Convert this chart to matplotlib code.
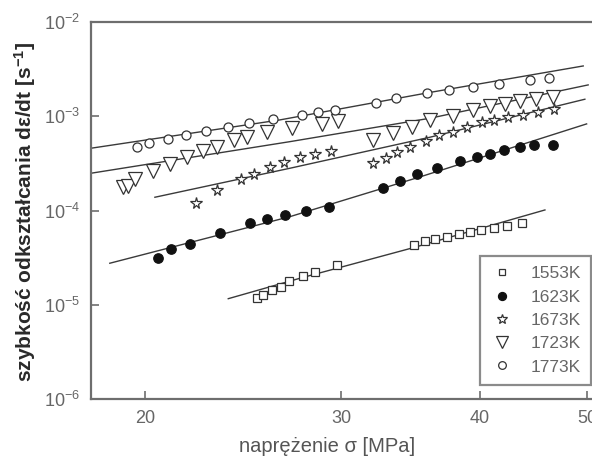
import matplotlib
matplotlib.use("Agg")
import matplotlib.pyplot as plt
from matplotlib.ticker import FixedLocator, FixedFormatter, NullLocator

plt.rcParams['font.family'] = ['Liberation Sans', 'DejaVu Sans']
plt.rcParams['mathtext.fontset'] = 'custom'
plt.rcParams['mathtext.rm'] = 'Liberation Sans'
plt.rcParams['mathtext.it'] = 'Liberation Sans:italic'
plt.rcParams['mathtext.bf'] = 'Liberation Sans:bold'

# ---- data ----
labels = ['1553K', '1623K', '1673K', '1723K', '1773K']

x_1553 = [25.20, 25.53, 26.00, 26.50, 26.94, 27.74, 28.43, 29.76, 34.93, 35.74, 36.48,
          37.37, 38.29, 39.17, 40.12, 41.16, 42.28, 43.62]
y_1553 = [1.186e-5, 1.261e-5, 1.435e-5, 1.563e-5, 1.783e-5, 2.045e-5, 2.238e-5, 2.676e-5,
          4.328e-5, 4.772e-5, 4.95e-5, 5.197e-5, 5.62e-5, 5.873e-5, 6.241e-5, 6.602e-5,
          6.932e-5, 7.46e-5]

x_1623 = [20.53, 21.10, 21.94, 23.33, 24.84, 25.73, 26.70, 27.93, 29.28, 32.70, 33.93,
          35.09, 36.62, 38.42, 39.73, 40.85, 42.07, 43.47, 44.76, 46.57]
y_1623 = [3.11e-5, 3.88e-5, 4.44e-5, 5.76e-5, 7.41e-5, 8.17e-5, 9.00e-5, 9.97e-5, 1.081e-4,
          1.74e-4, 2.065e-4, 2.45e-4, 2.85e-4, 3.32e-4, 3.74e-4, 3.96e-4, 4.43e-4, 4.70e-4,
          4.91e-4, 5.01e-4]

x_1673 = [22.21, 23.20, 24.38, 25.03, 25.92, 26.67, 27.55, 28.44, 29.36, 32.07, 32.91,
          33.69, 34.63, 35.77, 36.77, 37.84, 38.96, 40.15, 41.23, 42.43, 43.77, 45.14, 46.67]
y_1673 = [1.216e-4, 1.646e-4, 2.158e-4, 2.468e-4, 2.928e-4, 3.284e-4, 3.684e-4, 3.993e-4,
          4.327e-4, 3.166e-4, 3.648e-4, 4.172e-4, 4.772e-4, 5.526e-4, 6.30e-4, 6.883e-4,
          7.755e-4, 8.617e-4, 9.09e-4, 9.85e-4, 1.042e-3, 1.108e-3, 1.189e-3]

x_1723 = [19.10, 19.29, 19.57, 20.32, 21.05, 21.79, 22.52, 23.22, 24.03, 24.67, 25.73,
          27.10, 28.82, 29.83, 32.03, 33.43, 34.79, 36.04, 37.84, 39.46, 40.85, 42.14,
          43.47, 44.94, 46.57]
y_1723 = [1.77e-4, 1.83e-4, 2.14e-4, 2.62e-4, 3.11e-4, 3.74e-4, 4.32e-4, 4.77e-4, 5.55e-4,
          6.02e-4, 6.79e-4, 7.53e-4, 8.31e-4, 8.85e-4, 5.66e-4, 6.72e-4, 7.78e-4, 9.05e-4,
          1.017e-3, 1.169e-3, 1.28e-3, 1.353e-3, 1.457e-3, 1.529e-3, 1.617e-3]

x_1773 = [19.64, 20.17, 20.94, 21.78, 22.70, 23.72, 24.80, 26.08, 27.65, 28.60, 29.61,
          32.25, 33.63, 35.83, 37.54, 39.46, 41.60, 44.37, 46.18]
y_1773 = [4.77e-4, 5.16e-4, 5.73e-4, 6.35e-4, 7.05e-4, 7.72e-4, 8.51e-4, 9.38e-4, 1.035e-3,
          1.10e-3, 1.163e-3, 1.37e-3, 1.548e-3, 1.749e-3, 1.919e-3, 2.05e-3, 2.22e-3,
          2.40e-3, 2.54e-3]

# fitted curves
fx_1553 = [23.75, 27.55, 34.85, 45.78]
fy_1553 = [1.166e-5, 1.919e-5, 4.051e-5, 1.017e-4]
fx_1623 = [18.58, 26.99, 35.33, 49.91]
fy_1623 = [2.77e-5, 8.64e-5, 2.277e-4, 8.31e-4]
fx_1673 = [20.40, 26.99, 36.07, 49.73]
fy_1673 = [1.387e-4, 2.816e-4, 6.003e-4, 1.518e-3]
fx_1723 = [17.86, 26.99, 36.07, 50.07]
fy_1723 = [2.49e-4, 5.39e-4, 9.54e-4, 2.153e-3]
fx_1773 = [17.87, 26.43, 36.07, 49.56]
fy_1773 = [4.59e-4, 9.16e-4, 1.792e-3, 3.42e-3]

x_ticks = [20, 30, 40, 50]
x_ticklabels = ['20', '30', '40', '50']
y_ticks = [1e-6, 1e-5, 1e-4, 1e-3, 1e-2]
y_ticklabels = ['10$^{-6}$', '10$^{-5}$', '10$^{-4}$', '10$^{-3}$', '10$^{-2}$']

# ---- figure ----
fig = plt.figure(figsize=(5.92, 4.66), dpi=100)
ax = fig.add_axes([91 / 592, 66.7 / 466, 501 / 592, 377.3 / 466])
ax.set_xscale('log')
ax.set_yscale('log')

line_c = '#3a3a3a'
edge_c = '#333333'
for fx, fy in [(fx_1553, fy_1553), (fx_1623, fy_1623), (fx_1673, fy_1673),
               (fx_1723, fy_1723), (fx_1773, fy_1773)]:
    ax.plot(fx, fy, '-', color=line_c, lw=1.0, zorder=2)

h1 = ax.plot(x_1553, y_1553, 's', ms=5.5, mfc='white', mec=edge_c, mew=0.9, ls='none', zorder=3)[0]
h2 = ax.plot(x_1623, y_1623, 'o', ms=6.8, mfc='#111111', mec='#111111', mew=0.9, ls='none', zorder=3)[0]
h3 = ax.plot(x_1673, y_1673, '*', ms=8.5, mfc='white', mec=edge_c, mew=0.9, ls='none', zorder=3)[0]
h4 = ax.plot(x_1723, y_1723, 'v', ms=9.5, mfc='white', mec=edge_c, mew=0.9, ls='none', zorder=3)[0]
h5 = ax.plot(x_1773, y_1773, 'o', ms=6.5, mfc='white', mec=edge_c, mew=0.9, ls='none', zorder=3)[0]

ax.set_xlim(17.87, 50.47)
ax.set_ylim(1e-6, 1e-2)

ax.xaxis.set_major_locator(FixedLocator(x_ticks))
ax.xaxis.set_major_formatter(FixedFormatter(x_ticklabels))
ax.xaxis.set_minor_locator(NullLocator())
ax.yaxis.set_major_locator(FixedLocator(y_ticks))
ax.yaxis.set_major_formatter(FixedFormatter(y_ticklabels))
ax.yaxis.set_minor_locator(NullLocator())

spine_c = '#6e6e6e'
for s in ['left', 'bottom', 'top']:
    ax.spines[s].set_color(spine_c)
    ax.spines[s].set_linewidth(1.6)
ax.spines['right'].set_visible(False)

ax.tick_params(axis='both', which='major', direction='in', length=6, width=1.2,
               color=spine_c, labelcolor='#666666', labelsize=13)
ax.tick_params(axis='x', pad=8)
ax.tick_params(axis='y', pad=8)

ax.set_xlabel('naprężenie σ [MPa]', fontsize=14.5, color='#555555', va='center')
ax.xaxis.set_label_coords(0.471, -0.125)
ax.set_ylabel('szybkość odkształcania dε/dt [s$^{\\mathbf{-1}}$]', fontsize=15,
              fontweight='bold', color='#2a2a2a', va='center')
ax.yaxis.set_label_coords(-0.132, 0.497)

leg = ax.legend([h1, h2, h3, h4, h5], labels, loc='lower right',
                bbox_to_anchor=(0.998, 0.038), fontsize=12.5, frameon=True,
                fancybox=False, borderpad=0.6, handlelength=1.4, handletextpad=0.9,
                labelspacing=0.47, markerscale=0.85, borderaxespad=0)
leg.get_frame().set_edgecolor('#6e6e6e')
leg.get_frame().set_linewidth(1.6)
for t in leg.get_texts():
    t.set_color('#666666')

fig.savefig('out.png', dpi=100)
